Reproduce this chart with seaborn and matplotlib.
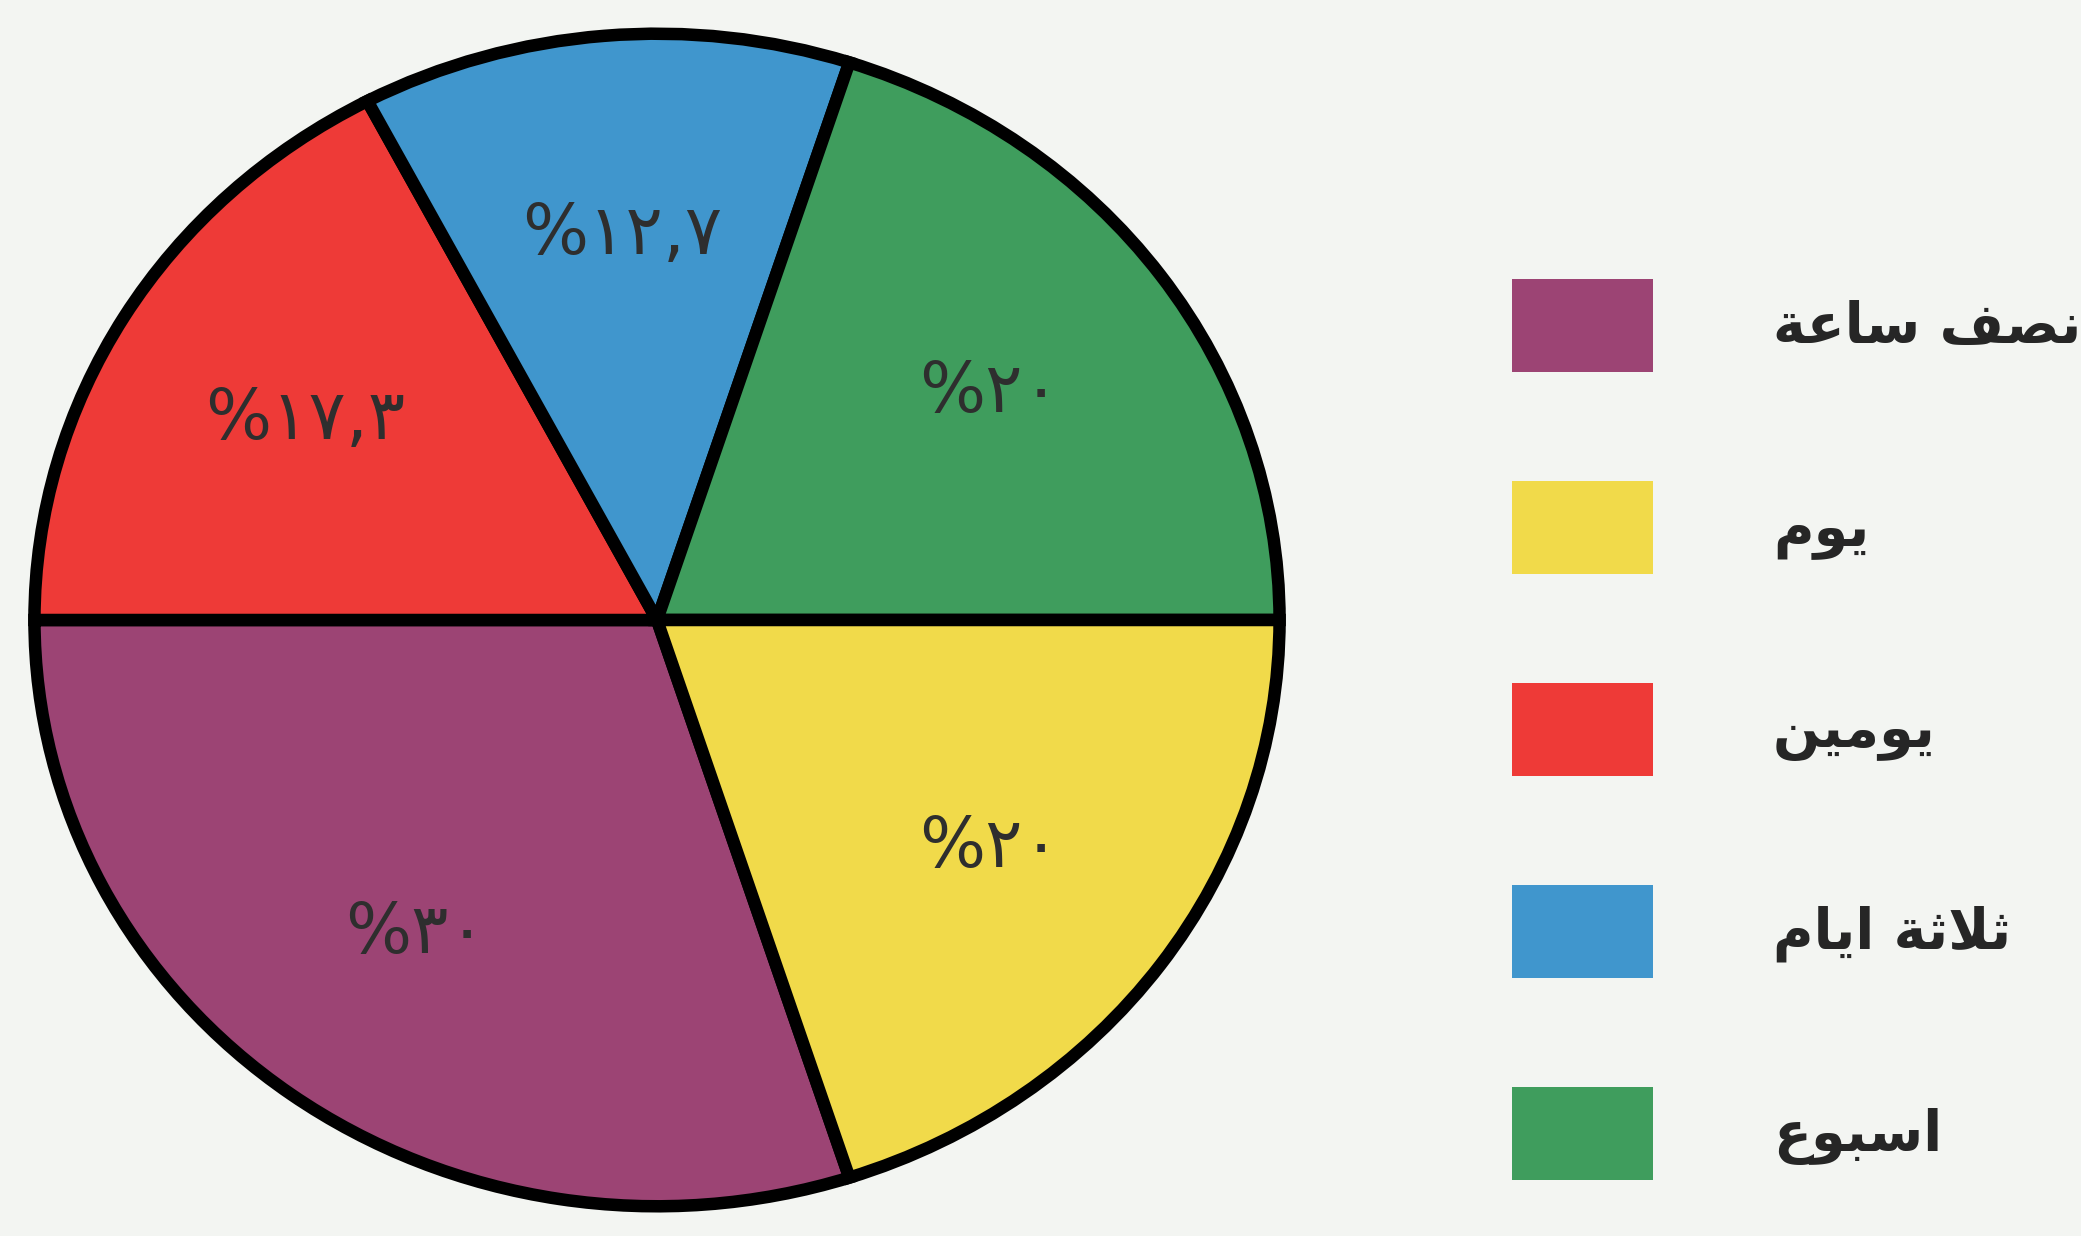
import matplotlib
matplotlib.use('Agg')
import matplotlib.pyplot as plt
import matplotlib.patches as mpatches
import seaborn as sns

# data, in the order the wedges are drawn (clockwise from the bottom)
categories = ['نصف ساعة', 'يومين', 'ثلاثة ايام', 'اسبوع', 'يوم']
shares = [30, 17.3, 12.7, 20, 20]
pct_labels = ['%٣٠', '%١٧,٣', '%١٢,٧', '%٢٠', '%٢٠']
colors = ['#9c4474', '#ee3a37', '#4096cd', '#3f9d5d', '#f1da4a']

# legend order as printed
legend_order = ['نصف ساعة', 'يوم', 'يومين', 'ثلاثة ايام', 'اسبوع']

# matplotlib has no arabic shaping: pick presentation forms by hand
# (isolated, final, initial, medial)
FORMS = {
    'ا': (0xFE8D, 0xFE8E, None, None),
    'ب': (0xFE8F, 0xFE90, 0xFE91, 0xFE92),
    'ة': (0xFE93, 0xFE94, None, None),
    'ت': (0xFE95, 0xFE96, 0xFE97, 0xFE98),
    'ث': (0xFE99, 0xFE9A, 0xFE9B, 0xFE9C),
    'س': (0xFEB1, 0xFEB2, 0xFEB3, 0xFEB4),
    'ص': (0xFEB9, 0xFEBA, 0xFEBB, 0xFEBC),
    'ع': (0xFEC9, 0xFECA, 0xFECB, 0xFECC),
    'ف': (0xFED1, 0xFED2, 0xFED3, 0xFED4),
    'ل': (0xFEDD, 0xFEDE, 0xFEDF, 0xFEE0),
    'م': (0xFEE1, 0xFEE2, 0xFEE3, 0xFEE4),
    'ن': (0xFEE5, 0xFEE6, 0xFEE7, 0xFEE8),
    'و': (0xFEED, 0xFEEE, None, None),
    'ي': (0xFEF1, 0xFEF2, 0xFEF3, 0xFEF4),
    'لا': (0xFEFB, 0xFEFC, None, None),
}


def shape(text):
    units = []
    i = 0
    while i < len(text):
        if text[i:i + 2] == 'لا':
            units.append('لا')
            i += 2
        else:
            units.append(text[i])
            i += 1
    out = []
    for k, u in enumerate(units):
        f = FORMS.get(u)
        if f is None:
            out.append(u)
            continue
        prev = units[k - 1] if k > 0 else None
        nxt = units[k + 1] if k + 1 < len(units) else None
        jp = prev in FORMS and FORMS[prev][2] is not None
        jn = f[2] is not None and nxt in FORMS
        if jp and jn:
            c = f[3]
        elif jp:
            c = f[1]
        elif jn:
            c = f[2]
        else:
            c = f[0]
        out.append(chr(c))
    return ''.join(reversed(out))


sns.set_style('white')
plt.rcParams['font.family'] = ['DejaVu Sans']

bg = '#f3f5f2'
fig = plt.figure(figsize=(20.81, 12.36), dpi=100, facecolor=bg)
ax = fig.add_axes([22 / 2081, 18 / 1236, 1270 / 2081, 1196 / 1236])
ax.set_facecolor(bg)

wedges, texts = ax.pie(shares, labels=pct_labels, colors=colors,
                       startangle=-72, counterclock=False,
                       labeldistance=0.66,
                       wedgeprops=dict(edgecolor='black', linewidth=9),
                       textprops=dict(fontsize=50, color='#2e2e2e',
                                      ha='center', va='center'))
ax.set_aspect('auto')
ax.set_xlim(-1.02, 1.02)
ax.set_ylim(-1.02, 1.02)

color_of = dict(zip(categories, colors))
handles = [mpatches.Patch(facecolor=color_of[c], edgecolor='none') for c in legend_order]
fs = 40
fs_px = fs * 100 / 72
hh = (93 / fs_px - 0.245) / 0.65
fig.legend(handles, [shape(c) for c in legend_order],
           loc='upper left', bbox_to_anchor=(1512 / 2081, 1 - 279 / 1236),
           frameon=False, prop=dict(size=fs, weight='bold'),
           handlelength=141 / fs_px, handleheight=hh,
           labelspacing=(202 - 93) / fs_px, handletextpad=120 / fs_px,
           borderpad=0, borderaxespad=0)

fig.savefig('out.png', dpi=100, facecolor=bg)
